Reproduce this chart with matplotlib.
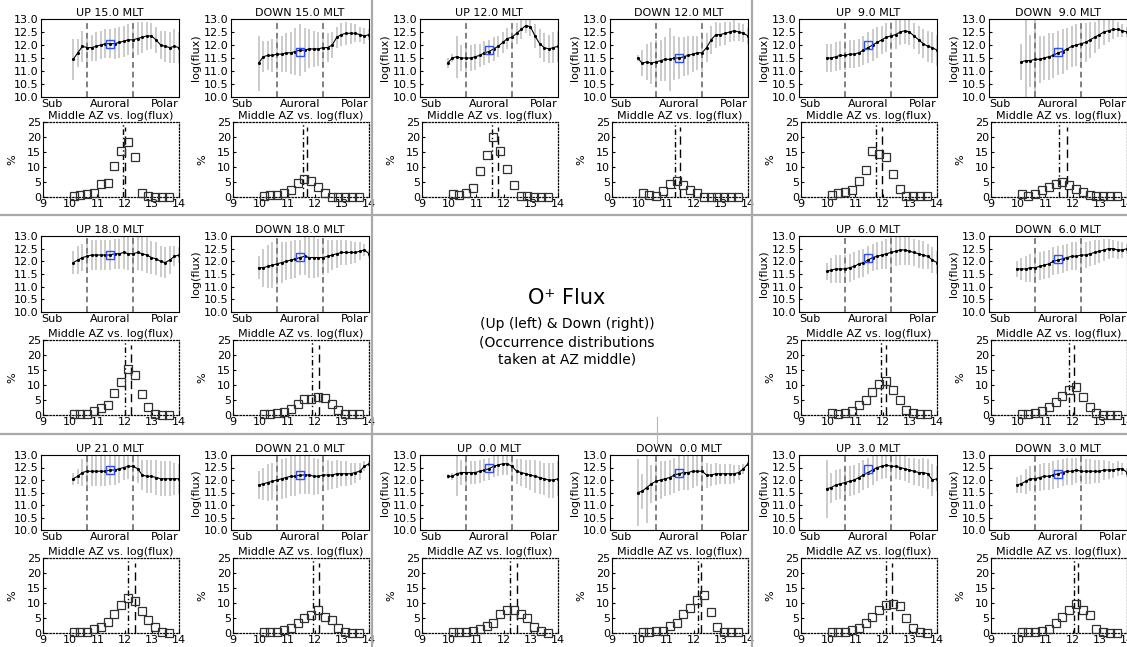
import numpy as np
import matplotlib
matplotlib.use("Agg")
import matplotlib.pyplot as plt
from matplotlib.lines import Line2D

W, H, DPI = 1127, 647, 100
NBIN = 30

# ---- flux profiles (log flux vs. Sub / Auroral / Polar bin), start bin, values, spread ----
up15_start = 7
up15_flux = [11.45, 11.7, 11.95, 11.9, 11.9, 11.95, 12.0, 12.05, 12.05, 12.05, 12.1, 12.15,
             12.2, 12.2, 12.25, 12.3, 12.35, 12.35, 12.2, 12.0, 11.95, 11.9, 11.95, 11.9]
up15_err = [0.8, 0.55, 0.6, 0.55, 0.5, 0.55, 0.55, 0.55, 0.55, 0.6, 0.6, 0.6,
            0.6, 0.65, 0.65, 0.6, 0.55, 0.5, 0.5, 0.55, 0.6, 0.6, 0.65, 0.6]
down15_start = 6
down15_flux = [11.3, 11.55, 11.6, 11.6, 11.65, 11.65, 11.7, 11.7, 11.75, 11.8, 11.8, 11.85, 11.85,
               11.85, 11.9, 11.9, 12.0, 12.3, 12.4, 12.45, 12.45, 12.45, 12.4, 12.35, 12.4]
down15_err = [1.05, 0.6, 0.55, 0.65, 0.6, 0.7, 0.75, 0.8, 0.9, 1.0, 0.85, 0.75, 0.7,
              0.65, 0.6, 0.55, 0.5, 0.4, 0.45, 0.45, 0.4, 0.35, 0.3, 0.3, 0.2]

up12_start = 6
up12_flux = [11.3, 11.5, 11.55, 11.5, 11.5, 11.5, 11.55, 11.6, 11.7, 11.75, 11.85, 11.95, 12.1,
             12.25, 12.3, 12.45, 12.6, 12.75, 12.7, 12.35, 12.05, 11.9, 11.85, 11.9, 11.95]
up12_err = [0.2, 0.15, 0.8, 0.5, 0.5, 0.5, 0.5, 0.45, 0.45, 0.45, 0.45, 0.4, 0.4,
            0.4, 0.45, 0.4, 0.35, 0.3, 0.35, 0.45, 0.55, 0.55, 0.55, 0.6, 0.6]
down12_start = 6
down12_flux = [11.5, 11.3, 11.35, 11.3, 11.35, 11.4, 11.45, 11.45, 11.5, 11.5, 11.55, 11.6, 11.65,
               11.7, 11.7, 11.9, 12.2, 12.4, 12.4, 12.45, 12.5, 12.55, 12.5, 12.45, 12.35]
down12_err = [0.1, 0.5, 0.7, 0.8, 0.85, 0.8, 0.85, 1.2, 0.85, 0.8, 0.75, 0.75, 0.7,
              0.65, 0.7, 0.55, 0.55, 0.5, 0.45, 0.45, 0.4, 0.4, 0.35, 0.35, 0.3]

up9_start = 6
up9_flux = [11.5, 11.5, 11.55, 11.6, 11.6, 11.65, 11.65, 11.7, 11.8, 11.9, 12.0, 12.1, 12.2,
            12.3, 12.35, 12.4, 12.5, 12.55, 12.5, 12.35, 12.2, 12.05, 11.95, 11.9, 11.8]
up9_err = [0.55, 0.55, 0.55, 0.55, 0.55, 0.55, 0.55, 0.55, 0.55, 0.6, 0.6, 0.6, 0.55,
           0.55, 0.55, 0.55, 0.5, 0.5, 0.5, 0.5, 0.55, 0.55, 0.6, 0.6, 0.6]
down9_start = 7
down9_flux = [11.35, 11.4, 11.4, 11.45, 11.45, 11.5, 11.55, 11.6, 11.7, 11.75, 11.85, 11.95,
              12.0, 12.05, 12.1, 12.2, 12.3, 12.4, 12.5, 12.55, 12.6, 12.6, 12.55, 12.5]
down9_err = [0.7, 1.6, 1.0, 1.6, 0.9, 0.85, 0.9, 0.85, 0.85, 0.85, 0.8, 0.8,
             0.8, 0.75, 0.75, 0.7, 0.6, 0.55, 0.5, 0.45, 0.35, 0.3, 0.25, 0.2]

up18_start = 7
up18_flux = [11.95, 12.05, 12.15, 12.2, 12.25, 12.25, 12.25, 12.25, 12.25, 12.3, 12.3, 12.35,
             12.3, 12.3, 12.35, 12.3, 12.25, 12.15, 12.1, 12.0, 11.95, 12.05, 12.2, 12.25]
up18_err = [0.45, 0.55, 0.55, 0.6, 0.6, 0.6, 0.6, 0.6, 0.6, 0.6, 0.6, 0.65,
            0.65, 0.65, 0.7, 0.7, 0.7, 0.65, 0.65, 0.6, 0.6, 0.55, 0.4, 0.3]
down18_start = 6
down18_flux = [11.75, 11.75, 11.8, 11.85, 11.9, 11.95, 12.0, 12.05, 12.1, 12.15, 12.2, 12.15, 12.15,
               12.15, 12.15, 12.2, 12.25, 12.3, 12.35, 12.35, 12.35, 12.35, 12.4, 12.45, 12.3]
down18_err = [0.45, 0.75, 0.85, 0.9, 0.85, 0.8, 0.75, 0.75, 0.75, 0.7, 0.75, 0.8, 0.8,
              0.75, 0.7, 0.65, 0.6, 0.55, 0.5, 0.5, 0.45, 0.4, 0.35, 0.25, 0.15]

up6_start = 6
up6_flux = [11.6, 11.65, 11.7, 11.7, 11.7, 11.75, 11.8, 11.9, 11.95, 12.05, 12.15, 12.2, 12.25,
            12.3, 12.35, 12.4, 12.45, 12.45, 12.4, 12.35, 12.3, 12.25, 12.2, 12.05, 11.95]
up6_err = [0.35, 0.5, 0.55, 0.55, 0.55, 0.55, 0.55, 0.55, 0.55, 0.55, 0.55, 0.55, 0.55,
           0.6, 0.6, 0.6, 0.6, 0.6, 0.55, 0.55, 0.55, 0.55, 0.5, 0.5, 0.45]
down6_start = 6
down6_flux = [11.7, 11.7, 11.7, 11.75, 11.75, 11.8, 11.85, 11.9, 12.0, 12.05, 12.1, 12.15, 12.2,
              12.2, 12.25, 12.25, 12.3, 12.35, 12.4, 12.45, 12.5, 12.5, 12.45, 12.45, 12.5]
down6_err = [0.3, 0.45, 0.5, 0.55, 0.55, 0.55, 0.55, 0.55, 0.55, 0.55, 0.55, 0.55, 0.55,
             0.55, 0.55, 0.5, 0.5, 0.5, 0.45, 0.45, 0.4, 0.35, 0.35, 0.3, 0.2]

up21_start = 7
up21_flux = [12.05, 12.15, 12.3, 12.35, 12.35, 12.35, 12.35, 12.35, 12.4, 12.4, 12.45, 12.5,
             12.55, 12.55, 12.45, 12.2, 12.15, 12.15, 12.1, 12.05, 12.05, 12.05, 12.05, 12.05]
up21_err = [0.25, 0.3, 0.55, 0.6, 0.6, 0.6, 0.6, 0.6, 0.6, 0.6, 0.55, 0.5,
            0.5, 0.5, 0.55, 0.6, 0.65, 0.65, 0.7, 0.7, 0.7, 0.7, 0.65, 0.6]
down21_start = 6
down21_flux = [11.8, 11.85, 11.9, 11.95, 12.0, 12.05, 12.1, 12.15, 12.15, 12.2, 12.2, 12.2, 12.15,
               12.15, 12.2, 12.2, 12.2, 12.25, 12.25, 12.25, 12.25, 12.3, 12.35, 12.55, 12.65]
down21_err = [0.55, 0.65, 0.75, 0.75, 0.8, 0.8, 0.8, 0.8, 0.8, 0.75, 0.75, 0.75, 0.75,
              0.7, 0.65, 0.6, 0.55, 0.55, 0.5, 0.5, 0.45, 0.4, 0.35, 0.2, 0.1]

up0_start = 6
up0_flux = [12.15, 12.15, 12.25, 12.3, 12.3, 12.3, 12.3, 12.35, 12.4, 12.45, 12.55, 12.6, 12.65,
            12.65, 12.55, 12.35, 12.3, 12.25, 12.2, 12.15, 12.1, 12.05, 12.0, 12.0, 12.05]
up0_err = [0.1, 0.15, 0.9, 0.5, 0.5, 0.45, 0.45, 0.45, 0.45, 0.45, 0.45, 0.45, 0.45,
           0.45, 0.5, 0.5, 0.55, 0.55, 0.6, 0.65, 0.65, 0.65, 0.7, 0.7, 0.7]
down0_start = 6
down0_flux = [11.5, 11.55, 11.7, 11.85, 11.95, 12.0, 12.05, 12.1, 12.2, 12.25, 12.3, 12.3, 12.35,
              12.35, 12.35, 12.2, 12.2, 12.25, 12.25, 12.25, 12.25, 12.25, 12.3, 12.45, 12.65]
down0_err = [1.35, 0.7, 1.4, 0.75, 0.75, 0.75, 0.7, 0.7, 0.7, 0.7, 0.7, 0.7, 0.65,
             0.6, 0.55, 0.5, 0.45, 0.45, 0.4, 0.4, 0.4, 0.35, 0.3, 0.2, 0.1]

up3_start = 6
up3_flux = [11.65, 11.7, 11.8, 11.85, 11.9, 11.95, 12.0, 12.1, 12.2, 12.3, 12.4, 12.5, 12.55,
            12.6, 12.55, 12.55, 12.5, 12.45, 12.4, 12.35, 12.3, 12.3, 12.25, 12.0, 12.05]
up3_err = [1.15, 0.6, 0.6, 0.6, 0.6, 0.6, 0.6, 0.6, 0.6, 0.6, 0.6, 0.55, 0.5,
           0.5, 0.5, 0.5, 0.5, 0.5, 0.5, 0.55, 0.55, 0.6, 0.6, 0.65, 0.5]
down3_start = 6
down3_flux = [11.8, 11.85, 11.95, 12.05, 12.05, 12.1, 12.15, 12.15, 12.2, 12.25, 12.3, 12.35, 12.35,
              12.4, 12.35, 12.35, 12.35, 12.35, 12.35, 12.4, 12.4, 12.4, 12.45, 12.45, 12.3]
down3_err = [0.3, 0.35, 0.5, 0.5, 0.55, 0.55, 0.55, 0.55, 0.55, 0.55, 0.55, 0.55, 0.55,
             0.5, 0.5, 0.5, 0.5, 0.45, 0.45, 0.4, 0.35, 0.3, 0.3, 0.25, 0.2]

# value at the middle of the auroral zone (blue box)
mid_flux_up = {15: 12.05, 12: 11.82, 9: 12.0, 18: 12.25, 6: 12.15, 21: 12.4, 0: 12.5, 3: 12.45}
mid_flux_down = {15: 11.75, 12: 11.5, 9: 11.75, 18: 12.18, 6: 12.08, 21: 12.2, 0: 12.28, 3: 12.25}

# ---- occurrence distributions at AZ middle ----
hist_bins = [10.125, 10.375, 10.625, 10.875, 11.125, 11.375, 11.625, 11.875,
             12.125, 12.375, 12.625, 12.875, 13.125, 13.375, 13.625]
hist_up15 = [0.3, 0.8, 0.9, 1.5, 4.2, 4.7, 10.5, 15.2, 18.5, 13.3, 1.5, 0.2, 0, 0, 0]
hist_down15 = [0.3, 0.8, 0.6, 1.5, 2.3, 4.8, 6.1, 5.5, 3.2, 1.5, 0.1, 0, 0, 0, 0]
hist_up12 = [1.0, 0.8, 1.5, 3.0, 8.8, 14.0, 20.0, 15.5, 9.2, 4.0, 0.3, 0.3, 0, 0, 0]
hist_down12 = [1.3, 0.8, 0.4, 2.1, 4.3, 5.2, 4.0, 2.4, 1.3, 0, 0, 0, 0, 0, 0]
hist_up9 = [0.8, 1.2, 1.8, 2.5, 5.3, 9.0, 15.2, 14.5, 13.5, 7.8, 2.7, 0.5, 0.2, 0.2, 0.2]
hist_down9 = [1.0, 0.5, 1.0, 2.3, 3.5, 4.5, 5.0, 4.0, 2.8, 1.8, 0.8, 0.2, 0.2, 0.2, 0.2]
hist_up18 = [0.3, 0.3, 0.3, 1.5, 2.2, 3.3, 7.2, 11.0, 15.2, 13.3, 7.1, 2.7, 0.4, 0, 0]
hist_down18 = [0.3, 0.5, 0.8, 1.0, 2.0, 3.8, 5.2, 5.5, 6.0, 5.7, 3.8, 1.8, 0.3, 0.2, 0.2]
hist_up6 = [0.7, 0.5, 0.8, 1.5, 3.2, 5.0, 7.8, 10.3, 11.2, 8.3, 5.0, 1.8, 0.6, 0.2, 0.2]
hist_down6 = [0.5, 0.5, 0.8, 1.3, 2.8, 4.5, 6.5, 8.2, 9.3, 6.0, 2.7, 0.6, 0.1, 0.1, 0.1]
hist_up21 = [0.4, 0.4, 0.5, 1.4, 2.0, 3.8, 6.5, 9.4, 11.7, 10.8, 7.5, 4.3, 2.0, 0.4, 0.1]
hist_down21 = [0.4, 0.2, 0.5, 1.0, 1.8, 3.5, 5.0, 6.0, 7.8, 5.5, 4.5, 1.7, 0.3, 0.1, 0.1]
hist_up0 = [0.5, 0.3, 0.3, 0.8, 1.5, 2.5, 3.2, 6.5, 7.7, 7.8, 6.3, 5.0, 2.0, 0.8, 0.1]
hist_down0 = [0.3, 0.3, 0.8, 0.8, 2.2, 3.2, 6.2, 8.3, 11.0, 12.8, 7.0, 2.0, 0.5, 0.2, 0.2]
hist_up3 = [0.3, 0.3, 0.5, 1.0, 1.7, 3.2, 5.5, 7.8, 9.2, 9.8, 9.0, 5.0, 1.8, 0.5, 0.1]
hist_down3 = [0.2, 0.2, 0.3, 0.8, 1.5, 3.3, 5.2, 7.8, 9.8, 7.8, 6.0, 1.5, 0.3, 0.1, 0.1]

# mean (dash-dot) and median (dashed) of each distribution
mean_up = {15: 11.95, 12: 11.58, 9: 11.75, 18: 12.03, 6: 11.93, 21: 12.12, 0: 12.22, 3: 12.13}
median_up = {15: 12.02, 12: 11.8, 9: 11.97, 18: 12.22, 6: 12.13, 21: 12.38, 0: 12.48, 3: 12.36}
mean_down = {15: 11.58, 12: 11.33, 9: 11.5, 18: 11.9, 6: 11.87, 21: 11.95, 0: 12.15, 3: 12.04}
median_down = {15: 11.72, 12: 11.5, 9: 11.78, 18: 12.15, 6: 12.05, 21: 12.17, 0: 12.28, 3: 12.2}

up_profiles = {15: (up15_start, up15_flux, up15_err), 12: (up12_start, up12_flux, up12_err),
               9: (up9_start, up9_flux, up9_err), 18: (up18_start, up18_flux, up18_err),
               6: (up6_start, up6_flux, up6_err), 21: (up21_start, up21_flux, up21_err),
               0: (up0_start, up0_flux, up0_err), 3: (up3_start, up3_flux, up3_err)}
down_profiles = {15: (down15_start, down15_flux, down15_err), 12: (down12_start, down12_flux, down12_err),
                 9: (down9_start, down9_flux, down9_err), 18: (down18_start, down18_flux, down18_err),
                 6: (down6_start, down6_flux, down6_err), 21: (down21_start, down21_flux, down21_err),
                 0: (down0_start, down0_flux, down0_err), 3: (down3_start, down3_flux, down3_err)}
up_hists = {15: hist_up15, 12: hist_up12, 9: hist_up9, 18: hist_up18,
            6: hist_up6, 21: hist_up21, 0: hist_up0, 3: hist_up3}
down_hists = {15: hist_down15, 12: hist_down12, 9: hist_down9, 18: hist_down18,
              6: hist_down6, 21: hist_down21, 0: hist_down0, 3: hist_down3}

# MLT sector shown in each cell of the 3x3 grid (None = caption)
grid_mlt = [[15, 12, 9], [18, None, 6], [21, 0, 3]]

FS = 8
fig = plt.figure(figsize=(W / DPI, H / DPI), dpi=DPI)
fig.patch.set_facecolor('white')


def px_axes(left, top, width, height):
    return fig.add_axes([left / W, 1 - (top + height) / H, width / W, height / H])


def flux_panel(ax, prof, mid, title, ylabel):
    start, flux, err = prof
    x = np.arange(start, start + len(flux)) / NBIN
    ax.errorbar(x, flux, yerr=err, fmt='none', ecolor='#bdbdbd', elinewidth=1.1,
                capsize=0, zorder=1)
    ax.plot(x, flux, color='black', lw=0.8, marker='.', ms=2.5, zorder=3)
    for xv in (1 / 3, 2 / 3):
        ax.axvline(xv, color='#808080', lw=1.4, dashes=(3, 2), zorder=2)
    ax.plot([0.5], [mid], marker='s', ms=5.5, mfc='none', mec='#2b4cff', mew=1.0, zorder=4)
    ax.set_xlim(0, 1)
    ax.set_ylim(10, 13)
    ax.set_yticks([10.0, 10.5, 11.0, 11.5, 12.0, 12.5, 13.0])
    ax.set_yticklabels(['10.0', '10.5', '11.0', '11.5', '12.0', '12.5', '13.0'])
    ax.set_xticks([0, 0.5, 1])
    ax.set_xticklabels(['Sub', 'Auroral', 'Polar'])
    labs = ax.get_xticklabels()
    labs[0].set_ha('left')
    labs[2].set_ha('right')
    ax.tick_params(axis='x', length=0, pad=1.5, labelsize=FS)
    ax.tick_params(axis='y', direction='in', length=2, pad=2, labelsize=FS)
    ax.set_title(title, fontsize=FS, pad=2)
    if ylabel:
        ax.set_ylabel('log(flux)', fontsize=FS, labelpad=2)
    for s in ax.spines.values():
        s.set_linewidth(0.8)


def hist_panel(ax, pct, mean, median):
    ax.plot(hist_bins, pct, ls='none', marker='s', ms=5.2, mfc='none', mec='#303030', mew=0.9,
            zorder=3, clip_on=False)
    ax.plot([mean, mean], [0, 25], color='black', lw=1.0, dashes=(4, 2, 1, 2))
    ax.plot([median, median], [0, 23.5], color='black', lw=1.0, dashes=(6, 3.5))
    ax.set_xlim(9, 14)
    ax.set_ylim(0, 25)
    ax.set_xticks([9, 10, 11, 12, 13, 14])
    ax.set_yticks([0, 5, 10, 15, 20, 25])
    ax.tick_params(direction='in', length=2.5, pad=1.5, labelsize=FS)
    ax.set_title('Middle AZ vs. log(flux)', fontsize=FS, pad=2)
    ax.set_ylabel('%', fontsize=FS, labelpad=7)
    for side in ('top', 'right', 'bottom'):
        ax.spines[side].set_linestyle((0, (1, 1.6)))
        ax.spines[side].set_linewidth(0.9)
    ax.spines['left'].set_linewidth(0.8)


col_off = [0, 379, 758]
row_top = [19, 236, 455]
upper_h = [78, 76, 75]
lower_top = [122, 340, 558]
lower_h = 75

for r in range(3):
    for c in range(3):
        mlt = grid_mlt[r][c]
        if mlt is None:
            continue
        for k, (direction, prof_d, mid_d, hist_d, mean_d, med_d) in enumerate([
                ('UP', up_profiles, mid_flux_up, up_hists, mean_up, median_up),
                ('DOWN', down_profiles, mid_flux_down, down_hists, mean_down, median_down)]):
            left = 41 + col_off[c] + 190 * k
            ax_u = px_axes(left, row_top[r], 138, upper_h[r])
            title = '%s %4.1f MLT' % (direction, mlt)
            flux_panel(ax_u, prof_d[mlt], mid_d[mlt], title, ylabel=not (c == 0 and k == 0))
            ax_l = px_axes(left + 2, lower_top[r], 136, lower_h)
            hist_panel(ax_l, hist_d[mlt], mean_d[mlt], med_d[mlt])

# caption in the middle cell
fig.text(567 / W, 1 - 298 / H, 'O\u207a Flux', fontsize=15, ha='center', va='center')
fig.text(567 / W, 1 - 342 / H,
         '(Up (left) & Down (right))\n(Occurrence distributions\ntaken at AZ middle)',
         fontsize=10, ha='center', va='center', linespacing=1.35)

# grey separators between MLT sectors
sep = dict(color='#a9a9a9', lw=1.6, transform=fig.transFigure)
for xp in (372, 752):
    fig.add_artist(Line2D([xp / W, xp / W], [0, 1], **sep))
for yp in (215, 434):
    fig.add_artist(Line2D([0, 1], [1 - yp / H, 1 - yp / H], **sep))
fig.add_artist(Line2D([657 / W, 657 / W], [1 - 417 / H, 1 - 443 / H], color='#b5b5b5', lw=0.8,
                      transform=fig.transFigure))

fig.savefig('out.png', dpi=DPI, facecolor='white')
